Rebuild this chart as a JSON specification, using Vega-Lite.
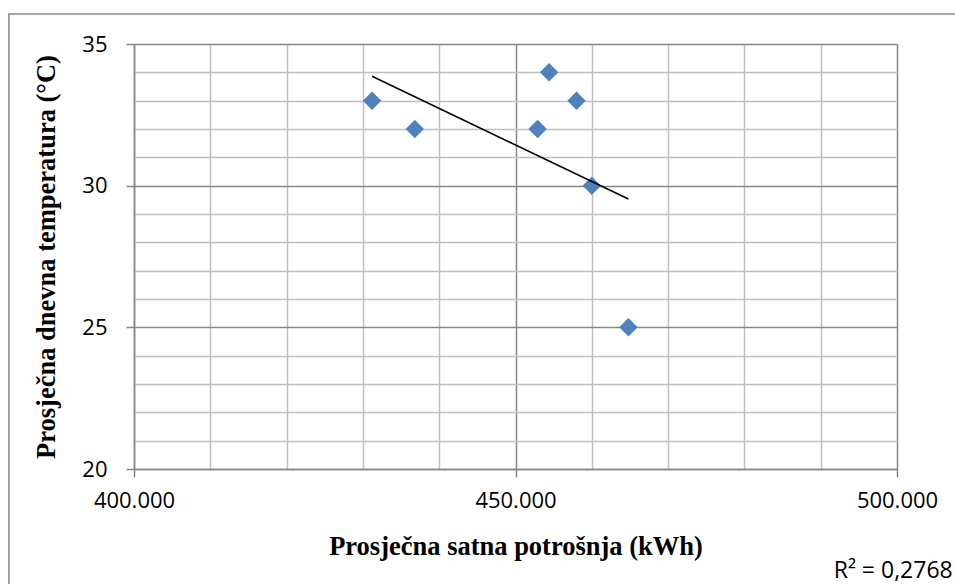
{
  "$schema": "https://vega.github.io/schema/vega-lite/v6.json",
  "autosize": "none",
  "width": 763,
  "height": 425,
  "padding": {"left": 134, "top": 44, "right": 58, "bottom": 115},
  "background": "white",
  "config": {
    "view": {"stroke": null},
    "axisX": {
      "titleFont": "Liberation Serif", "titleFontSize": 26.5, "titleFontWeight": "bold", "titleColor": "#000000", "titlePadding": 22,
      "labelFont": "Open Sans", "labelFontSize": 22, "labelColor": "#000000", "labelPadding": 13,
      "grid": true, "gridWidth": 1.5,
      "domainColor": "#868686", "domainWidth": 1.5,
      "tickSize": 8, "tickWidth": 1.5,
      "labelFlush": false, "labelOverlap": false
    },
    "axisY": {
      "titleFont": "Liberation Serif", "titleFontSize": 26.5, "titleFontWeight": "bold", "titleColor": "#000000", "titlePadding": 21,
      "labelFont": "Open Sans", "labelFontSize": 22, "labelColor": "#000000", "labelPadding": 19,
      "grid": true, "gridWidth": 1.5,
      "domainColor": "#868686", "domainWidth": 1.5,
      "tickSize": 8, "tickWidth": 1.5,
      "labelFlush": false, "labelOverlap": false
    }
  },
  "layer": [
    {
      "data": {"values": [
        {"potrosnja": 431.2, "temperatura": 33},
        {"potrosnja": 436.8, "temperatura": 32},
        {"potrosnja": 452.9, "temperatura": 32},
        {"potrosnja": 454.4, "temperatura": 34},
        {"potrosnja": 458.0, "temperatura": 33},
        {"potrosnja": 460.0, "temperatura": 30},
        {"potrosnja": 464.8, "temperatura": 25}
      ], "name": "tocke"},
      "layer": [
        {
          "mark": {"type": "point", "shape": "diamond", "filled": true, "color": "#4f81bd", "size": 340, "opacity": 1},
          "encoding": {
            "x": {
              "field": "potrosnja", "type": "quantitative",
              "scale": {"domain": [400, 500], "nice": false, "zero": false},
              "axis": {
                "title": "Prosječna satna potrošnja (kWh)",
                "values": [400, 410, 420, 430, 440, 450, 460, 470, 480, 490, 500],
                "labelExpr": "datum.value % 50 === 0 ? format(datum.value, '.3f') : ''",
                "gridColor": {"condition": {"test": "datum.value % 50 === 0", "value": "#878787"}, "value": "#bfbfbf"},
                "tickColor": {"condition": {"test": "datum.value % 50 === 0", "value": "#868686"}, "value": "transparent"}
              }
            },
            "y": {
              "field": "temperatura", "type": "quantitative",
              "scale": {"domain": [20, 35], "nice": false, "zero": false},
              "axis": {
                "title": "Prosječna dnevna temperatura (°C)",
                "values": [20, 21, 22, 23, 24, 25, 26, 27, 28, 29, 30, 31, 32, 33, 34, 35],
                "labelExpr": "datum.value % 5 === 0 ? format(datum.value, 'd') : ''",
                "gridColor": {"condition": {"test": "datum.value % 5 === 0", "value": "#878787"}, "value": "#bfbfbf"},
                "tickColor": {"condition": {"test": "datum.value % 5 === 0", "value": "#868686"}, "value": "transparent"}
              }
            }
          }
        },
        {
          "transform": [{"regression": "temperatura", "on": "potrosnja"}],
          "mark": {"type": "line", "color": "#000000", "strokeWidth": 1.6},
          "encoding": {
            "x": {
              "field": "potrosnja", "type": "quantitative",
              "axis": {
                "title": "Prosječna satna potrošnja (kWh)",
                "values": [400, 410, 420, 430, 440, 450, 460, 470, 480, 490, 500],
                "labelExpr": "datum.value % 50 === 0 ? format(datum.value, '.3f') : ''",
                "gridColor": {"condition": {"test": "datum.value % 50 === 0", "value": "#878787"}, "value": "#bfbfbf"},
                "tickColor": {"condition": {"test": "datum.value % 50 === 0", "value": "#868686"}, "value": "transparent"}
              }
            },
            "y": {
              "field": "temperatura", "type": "quantitative",
              "axis": {
                "title": "Prosječna dnevna temperatura (°C)",
                "values": [20, 21, 22, 23, 24, 25, 26, 27, 28, 29, 30, 31, 32, 33, 34, 35],
                "labelExpr": "datum.value % 5 === 0 ? format(datum.value, 'd') : ''",
                "gridColor": {"condition": {"test": "datum.value % 5 === 0", "value": "#878787"}, "value": "#bfbfbf"},
                "tickColor": {"condition": {"test": "datum.value % 5 === 0", "value": "#868686"}, "value": "transparent"}
              }
            }
          }
        }
      ]
    },
    {
      "data": {"values": [{"oznaka": "R² = 0,2768"}]},
      "layer": [
        {
          "mark": {"type": "rect", "fill": null, "stroke": "#8c8c8c", "strokeWidth": 1.5, "clip": false},
          "encoding": {
            "x": {
              "datum": 383.6, "type": "quantitative",
              "axis": {
                "title": "Prosječna satna potrošnja (kWh)",
                "values": [400, 410, 420, 430, 440, 450, 460, 470, 480, 490, 500],
                "labelExpr": "datum.value % 50 === 0 ? format(datum.value, '.3f') : ''",
                "gridColor": {"condition": {"test": "datum.value % 50 === 0", "value": "#878787"}, "value": "#bfbfbf"},
                "tickColor": {"condition": {"test": "datum.value % 50 === 0", "value": "#868686"}, "value": "transparent"}
              }
            },
            "x2": {"datum": 520},
            "y": {
              "datum": 36.06, "type": "quantitative",
              "axis": {
                "title": "Prosječna dnevna temperatura (°C)",
                "values": [20, 21, 22, 23, 24, 25, 26, 27, 28, 29, 30, 31, 32, 33, 34, 35],
                "labelExpr": "datum.value % 5 === 0 ? format(datum.value, 'd') : ''",
                "gridColor": {"condition": {"test": "datum.value % 5 === 0", "value": "#878787"}, "value": "#bfbfbf"},
                "tickColor": {"condition": {"test": "datum.value % 5 === 0", "value": "#868686"}, "value": "transparent"}
              }
            },
            "y2": {"datum": 14}
          }
        },
        {
          "mark": {"type": "text", "align": "right", "baseline": "middle", "font": "Open Sans", "fontSize": 23, "fontWeight": 400, "fill": "#000000", "clip": false},
          "encoding": {
            "text": {"field": "oznaka", "type": "nominal"},
            "x": {
              "datum": 507.3, "type": "quantitative",
              "axis": {
                "title": "Prosječna satna potrošnja (kWh)",
                "values": [400, 410, 420, 430, 440, 450, 460, 470, 480, 490, 500],
                "labelExpr": "datum.value % 50 === 0 ? format(datum.value, '.3f') : ''",
                "gridColor": {"condition": {"test": "datum.value % 50 === 0", "value": "#878787"}, "value": "#bfbfbf"},
                "tickColor": {"condition": {"test": "datum.value % 50 === 0", "value": "#868686"}, "value": "transparent"}
              }
            },
            "y": {
              "datum": 16.40, "type": "quantitative",
              "axis": {
                "title": "Prosječna dnevna temperatura (°C)",
                "values": [20, 21, 22, 23, 24, 25, 26, 27, 28, 29, 30, 31, 32, 33, 34, 35],
                "labelExpr": "datum.value % 5 === 0 ? format(datum.value, 'd') : ''",
                "gridColor": {"condition": {"test": "datum.value % 5 === 0", "value": "#878787"}, "value": "#bfbfbf"},
                "tickColor": {"condition": {"test": "datum.value % 5 === 0", "value": "#868686"}, "value": "transparent"}
              }
            }
          }
        }
      ]
    }
  ]
}
